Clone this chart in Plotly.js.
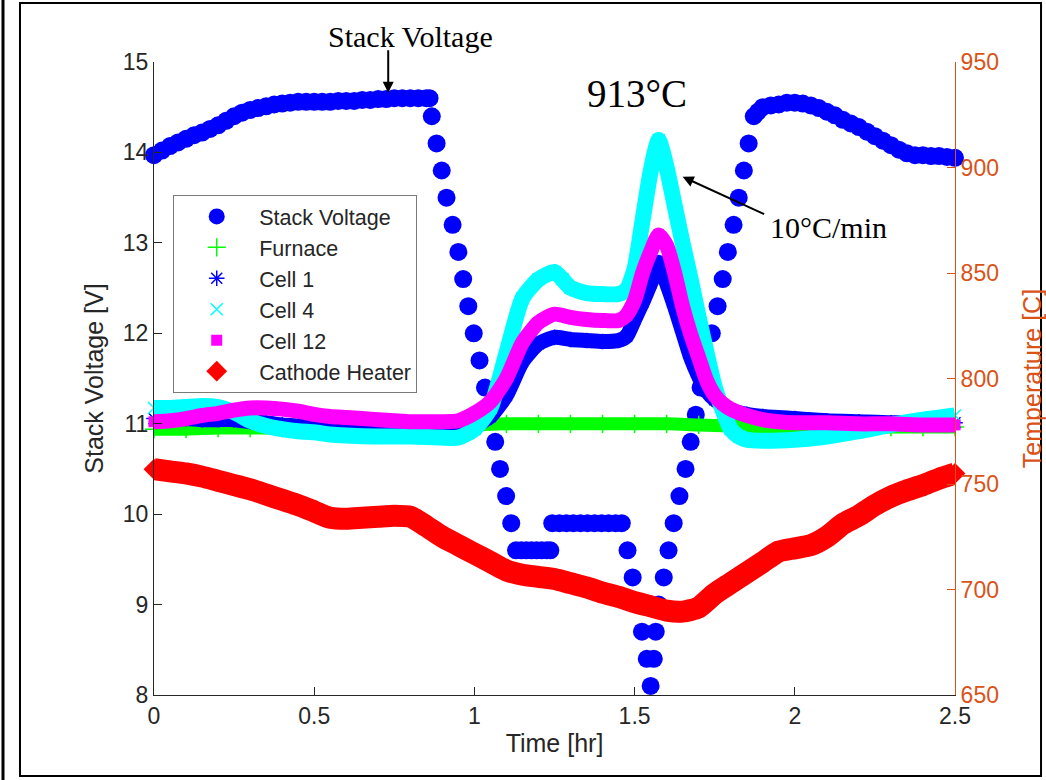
<!DOCTYPE html>
<html>
<head>
<meta charset="utf-8">
<script src="https://cdn.plot.ly/plotly-3.0.1.min.js"></script>
<style>
  html, body { margin: 0; padding: 0; background: #ffffff; }
  #chart { width: 1046px; height: 780px; }
  .scatterlayer .js-line { stroke-linejoin: round; }
</style>
</head>
<body>
<div id="chart"></div>
<script>
// Stack voltage [V] versus time [hr] (left axis)
const stackTime = [
  0, 0.025, 0.05, 0.075, 0.1, 0.125, 0.15, 0.175, 0.2, 0.225, 0.25, 0.275, 0.3, 0.325, 0.35, 0.375,
  0.4, 0.425, 0.45, 0.475, 0.5, 0.525, 0.55, 0.575, 0.6, 0.625, 0.65, 0.675, 0.7, 0.725, 0.75, 0.775,
  0.8, 0.825, 0.85, 0.86,
  0.867, 0.882, 0.898, 0.913, 0.932, 0.95, 0.965, 0.981, 0.998, 1.016, 1.033, 1.048, 1.065, 1.08, 1.099, 1.115,
  1.13, 1.146, 1.162, 1.178, 1.194, 1.21, 1.226, 1.237,
  1.243, 1.265, 1.287, 1.309, 1.331, 1.353, 1.375, 1.397, 1.419, 1.441, 1.46,
  1.478, 1.494, 1.508, 1.523, 1.538, 1.55,
  1.56, 1.566, 1.575, 1.591, 1.606, 1.622, 1.64, 1.659, 1.675, 1.691, 1.706, 1.725, 1.741, 1.759, 1.775,
  1.791, 1.809, 1.825, 1.841, 1.856, 1.872,
  1.885, 1.9, 1.925, 1.95, 1.975, 2.0, 2.025, 2.05, 2.075, 2.1, 2.125, 2.15, 2.175, 2.2, 2.225, 2.25,
  2.275, 2.3, 2.325, 2.35, 2.375, 2.4, 2.425, 2.45, 2.475, 2.5
];
const stackVolt = [
  13.97, 14.02, 14.07, 14.11, 14.15, 14.19, 14.22, 14.26, 14.30, 14.35, 14.40, 14.44, 14.47, 14.49, 14.51, 14.53,
  14.54, 14.55, 14.56, 14.56, 14.56, 14.56, 14.56, 14.57, 14.57, 14.57, 14.58, 14.58, 14.59, 14.59, 14.60, 14.60,
  14.60, 14.60, 14.60, 14.60,
  14.4, 14.1, 13.8, 13.5, 13.2, 12.9, 12.6, 12.3, 12.0, 11.7, 11.4, 11.1, 10.8, 10.5, 10.2, 9.9,
  9.6, 9.6, 9.6, 9.6, 9.6, 9.6, 9.6, 9.6,
  9.9, 9.9, 9.9, 9.9, 9.9, 9.9, 9.9, 9.9, 9.9, 9.9, 9.9,
  9.6, 9.3, 9.0, 8.7, 8.4, 8.1,
  8.4, 8.7, 9.0, 9.3, 9.6, 9.9, 10.2, 10.5, 10.8, 11.1, 11.4, 11.7, 12.0, 12.3, 12.6,
  12.9, 13.2, 13.5, 13.8, 14.1, 14.4,
  14.45, 14.50, 14.52, 14.53, 14.55, 14.55, 14.54, 14.52, 14.49, 14.45, 14.41, 14.36, 14.32, 14.28, 14.23, 14.18,
  14.13, 14.08, 14.03, 13.99, 13.97, 13.97, 13.96, 13.96, 13.95, 13.94
];

// Temperatures [C] versus time [hr] (right axis)
const furnaceTime = [0, 0.1, 0.2, 0.3, 0.4, 0.5, 0.6, 0.7, 0.8, 0.9, 1.0, 1.1, 1.2, 1.3, 1.4, 1.5, 1.6, 1.7, 1.8, 1.9, 2.0, 2.1, 2.2, 2.3, 2.4, 2.5];
const furnaceTemp = [776, 776, 776.5, 776.5, 776.5, 776.5, 776.5, 776.5, 777, 777, 778, 778.5, 778.5, 778.5, 778.5, 778.5, 778.5, 778, 777.5, 777, 777, 777, 777, 777, 777, 777];

const cell1Time = [0, 0.05, 0.1, 0.15, 0.2, 0.25, 0.3, 0.35, 0.4, 0.45, 0.5, 0.6, 0.7, 0.8, 0.9, 0.95, 1.0, 1.05, 1.1, 1.15, 1.2, 1.25,
  1.3, 1.35, 1.4, 1.45, 1.475, 1.5, 1.525, 1.55, 1.575, 1.6, 1.625, 1.65, 1.675, 1.7, 1.725, 1.75, 1.8, 1.85, 1.9, 2.0, 2.1, 2.2, 2.3, 2.4, 2.5];
const cell1Temp = [781, 781, 781, 780.5, 780.5, 780.5, 779.5, 779, 778, 777.5, 777, 776.5, 776, 776, 776, 776, 777.5, 782, 792, 808, 816.5, 819.5,
  818.5, 818, 817.5, 818, 820, 828, 836, 845, 855, 845, 834, 822, 810, 801, 794, 790, 785, 783, 782, 781, 780, 779.5, 779, 779, 779];

const cell4Time = [0, 0.05, 0.1, 0.15, 0.2, 0.25, 0.3, 0.35, 0.4, 0.45, 0.5, 0.55, 0.6, 0.7, 0.8, 0.9, 0.95, 1.0, 1.05, 1.1, 1.15, 1.2, 1.25, 1.275,
  1.3, 1.35, 1.4, 1.45, 1.475, 1.5, 1.525, 1.55, 1.575, 1.6, 1.625, 1.65, 1.675, 1.7, 1.725, 1.75, 1.775, 1.8, 1.825, 1.85, 1.9, 2.0, 2.1, 2.2, 2.3, 2.4, 2.5];
const cell4Temp = [786, 786, 786.5, 787, 786.5, 784, 780, 777.5, 776, 775, 774.5, 773.5, 773, 772.5, 772.5, 772, 772, 776, 786, 812, 838, 847, 850.5, 847,
  843, 840.5, 840, 840, 842, 852, 875, 898, 913, 900, 882, 864, 847, 829, 812, 796, 785, 776, 772.5, 771, 770.5, 771, 772.5, 775, 778, 780.5, 782.5];

const cell12Time = [0, 0.05, 0.1, 0.15, 0.2, 0.25, 0.3, 0.35, 0.4, 0.45, 0.5, 0.55, 0.6, 0.65, 0.7, 0.75, 0.8, 0.85, 0.9, 0.95, 1.0, 1.05, 1.1, 1.15, 1.2, 1.25,
  1.3, 1.35, 1.4, 1.45, 1.475, 1.5, 1.525, 1.55, 1.575, 1.6, 1.625, 1.65, 1.675, 1.7, 1.725, 1.75, 1.775, 1.8, 1.85, 1.9, 1.95, 2.0, 2.1, 2.2, 2.3, 2.4, 2.5];
const cell12Temp = [779.5, 780, 781, 782.5, 783.5, 785, 786, 786, 785.5, 784.5, 783, 782, 781.5, 781, 780.5, 780, 779.5, 779.5, 779.5, 780, 783.5, 789, 800, 817, 826.5, 830.5,
  829, 828, 827.5, 827.5, 830, 837, 850, 860, 868, 863, 850, 834, 821, 810, 799, 792, 788, 785.5, 782.5, 780.5, 779.5, 779, 779, 778.5, 778.5, 778, 778];

const heaterTime = [0, 0.05, 0.1, 0.15, 0.2, 0.25, 0.3, 0.35, 0.4, 0.45, 0.5, 0.55, 0.6, 0.65, 0.7, 0.75, 0.8, 0.85, 0.9, 0.95, 1.0, 1.05, 1.1, 1.15, 1.2, 1.25,
  1.3, 1.35, 1.4, 1.45, 1.5, 1.55, 1.6, 1.65, 1.7, 1.75, 1.8, 1.85, 1.9, 1.95, 2.0, 2.05, 2.1, 2.15, 2.2, 2.25, 2.3, 2.35, 2.4, 2.45, 2.5];
const heaterTemp = [757, 756, 755, 753.5, 751.5, 749.5, 747.5, 745, 742.5, 740, 737, 734, 733.5, 734, 734.5, 735, 734.5, 730, 725, 721, 717, 713, 709, 707, 706, 705,
  703, 701, 698.5, 696.5, 694, 692, 690, 689.5, 691.5, 698, 703, 708, 713, 718, 719.5, 721, 725, 731, 735, 740, 744, 747, 749.5, 752.5, 755];

const xTicks = [0, 0.5, 1, 1.5, 2, 2.5];
const xTickText = ['0', '0.5', '1', '1.5', '2', '2.5'];

const ORANGE = '#D95319';
const INK = '#262626';
const SANS = 'Liberation Sans, Arial, sans-serif';
const SERIF = 'Liberation Serif, Times New Roman, serif';

// Each temperature series: a thick band of the densely packed samples, then its markers
function band(x, y, color, width) {
  return { x, y, yaxis: 'y2', type: 'scatter', mode: 'lines', showlegend: false, hoverinfo: 'skip',
           line: { color, width, shape: 'spline', smoothing: 0.6 } };
}
function marks(name, x, y, color, symbol, size, lw) {
  return { name, x, y, yaxis: 'y2', type: 'scatter', mode: 'markers', cliponaxis: false,
           marker: { color, symbol, size, line: { color, width: lw } } };
}

const traces = [
  { name: 'Stack Voltage', x: stackTime, y: stackVolt, type: 'scatter', mode: 'markers', cliponaxis: false,
    marker: { color: '#0000FF', symbol: 'circle', size: 18, line: { width: 0 } } },
  band(furnaceTime, furnaceTemp, '#00FF00', 13),
  marks('Furnace', furnaceTime, furnaceTemp, '#00FF00', 'cross-thin-open', 13, 1.5),
  band(cell1Time, cell1Temp, '#0000FF', 15),
  marks('Cell 1', cell1Time, cell1Temp, '#0000FF', 'asterisk-open', 13, 1.5),
  band(cell4Time, cell4Temp, '#00FFFF', 16),
  marks('Cell 4', cell4Time, cell4Temp, '#00FFFF', 'x-thin-open', 12, 1.5),
  band(cell12Time, cell12Temp, '#FF00FF', 15),
  marks('Cell 12', cell12Time, cell12Temp, '#FF00FF', 'square', 11, 0),
  band(heaterTime, heaterTemp, '#FF0000', 22),
  marks('Cathode Heater', heaterTime, heaterTemp, '#FF0000', 'diamond', 16, 0)
];

const layout = {
  width: 1046, height: 780,
  margin: { l: 154, r: 91, t: 62, b: 85, pad: 0 },
  paper_bgcolor: '#ffffff', plot_bgcolor: 'rgba(0,0,0,0)',
  font: { family: SANS, size: 23, color: INK },
  showlegend: true,
  legend: {
    x: 0.024, y: 0.79, xanchor: 'left', yanchor: 'top',
    bgcolor: '#ffffff', bordercolor: '#7a7a7a', borderwidth: 1,
    font: { family: SANS, size: 21.5, color: INK }, itemwidth: 75, tracegroupgap: 0
  },
  xaxis: {
    range: [0, 2.5], tickvals: xTicks, ticktext: xTickText,
    showline: true, linecolor: INK, linewidth: 1, ticks: 'inside', ticklen: 8, tickcolor: INK,
    showgrid: false, zeroline: false, tickfont: { family: SANS, size: 23, color: INK },
    title: { text: 'Time [hr]', font: { family: SANS, size: 25, color: INK }, standoff: 6 },
    automargin: false
  },
  yaxis: {
    range: [8, 15], dtick: 1, tick0: 8,
    showline: true, linecolor: INK, linewidth: 1, ticks: 'inside', ticklen: 8, tickcolor: INK,
    showgrid: false, zeroline: false, tickfont: { family: SANS, size: 23, color: INK },
    title: { text: 'Stack Voltage [V]', font: { family: SANS, size: 25, color: INK }, standoff: 12 },
    automargin: false
  },
  yaxis2: {
    range: [650, 950], dtick: 50, tick0: 650, overlaying: 'y', side: 'right',
    showline: true, linecolor: ORANGE, linewidth: 1, ticks: 'inside', ticklen: 8, tickcolor: ORANGE,
    showgrid: false, zeroline: false, tickfont: { family: SANS, size: 23, color: ORANGE },
    title: { text: 'Temperature [C]', font: { family: SANS, size: 25, color: ORANGE }, standoff: 26 },
    automargin: false
  },
  shapes: [
    { type: 'rect', xref: 'paper', yref: 'paper', x0: -0.1673, x1: 1.1074, y0: -0.128, y1: 1.0932,
      line: { color: '#000000', width: 2 }, fillcolor: 'rgba(0,0,0,0)', layer: 'below' },
    { type: 'line', xref: 'paper', yref: 'paper', x0: -0.1885, x1: -0.1885, y0: -0.2, y1: 1.2,
      line: { color: '#000000', width: 3 }, layer: 'below' }
  ],
  annotations: [
    { xref: 'paper', yref: 'paper', x: 0.3208, y: 1.041, text: 'Stack Voltage', showarrow: false,
      xanchor: 'center', yanchor: 'middle', font: { family: SERIF, size: 30, color: '#000000' } },
    { xref: 'x', yref: 'y', x: 0.731, y: 14.66, text: '', showarrow: true, axref: 'pixel', ayref: 'pixel',
      ax: 0, ay: -44, arrowhead: 2, arrowsize: 1.1, arrowwidth: 2, arrowcolor: '#000000' },
    { xref: 'paper', yref: 'paper', x: 0.603, y: 0.951, text: '913°C', showarrow: false,
      xanchor: 'center', yanchor: 'middle', font: { family: SERIF, size: 39, color: '#000000' } },
    { xref: 'paper', yref: 'paper', x: 0.842, y: 0.738, text: '10°C/min', showarrow: false,
      xanchor: 'center', yanchor: 'middle', font: { family: SERIF, size: 30, color: '#000000' } },
    { xref: 'x', yref: 'y', x: 1.65, y: 13.73, text: '', showarrow: true,
      ax: 83, ay: 38, arrowhead: 2, arrowsize: 1.1, arrowwidth: 2, arrowcolor: '#000000' }
  ]
};

Plotly.newPlot('chart', traces, layout, { displayModeBar: false, staticPlot: true });
</script>
</body>
</html>
